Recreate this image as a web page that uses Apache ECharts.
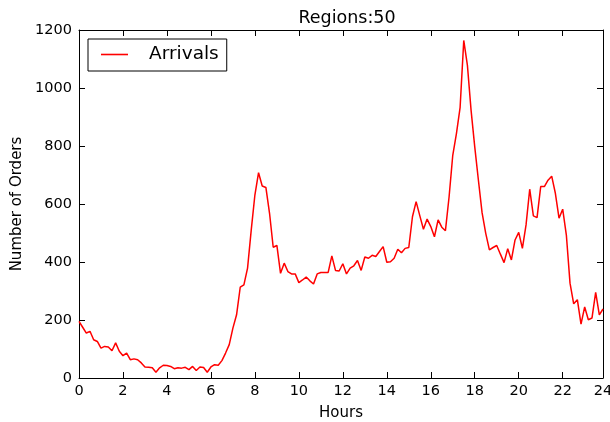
<!DOCTYPE html>
<html>
<head>
<meta charset="utf-8">
<script src="https://cdn.jsdelivr.net/npm/echarts@6/dist/echarts.min.js"></script>
<style>html,body{margin:0;padding:0;background:#fff;}#c{width:610px;height:422px;}</style>
</head>
<body>
<div id="c"></div>
<script>
const title = "Regions:50";
const seriesName = "Arrivals";
const xLabel = "Hours";
const yLabel = "Number of Orders";
const stepHours = 1 / 6; // one sample every 10 minutes
const arrivals = [
  195, 175, 155, 161, 132, 126, 103, 109, 107, 94, 121, 92,
  77, 86, 63, 66, 63, 52, 38, 37, 35, 20, 35, 44,
  43, 40, 32, 35, 34, 37, 29, 40, 26, 38, 36, 20,
  38, 46, 44, 60, 86, 115, 172, 218, 313, 321, 379, 510,
  631, 708, 662, 657, 568, 451, 457, 361, 396, 367, 359, 359,
  329, 338, 348, 335, 324, 359, 364, 364, 364, 421, 371, 369,
  394, 359, 379, 387, 405, 371, 417, 413, 423, 419, 436, 453,
  399, 401, 413, 444, 432, 447, 450, 556, 608, 560, 513, 548,
  522, 487, 545, 520, 508, 625, 768, 843, 932, 1164, 1078, 923,
  797, 682, 570, 499, 442, 450, 457, 427, 398, 446, 407, 476,
  502, 447, 528, 651, 559, 553, 660, 660, 682, 696, 637, 551,
  582, 493, 327, 256, 270, 186, 245, 201, 207, 295, 218, 238
];
const xTicks = [0, 2, 4, 6, 8, 10, 12, 14, 16, 18, 20, 22, 24];
const yTicks = [0, 200, 400, 600, 800, 1000, 1200];

const points = arrivals.map((v, i) => [i * stepHours, v]);
const xMax = (arrivals.length - 1) * stepHours;
const font = "DejaVu Sans";
const axisCommon = {
  type: 'value',
  axisLine: { show: true, onZero: false, lineStyle: { color: '#000', width: 1 } },
  axisTick: { show: true, inside: true, length: 6, lineStyle: { color: '#000', width: 1 } },
  splitLine: { show: false },
  minorTick: { show: false }
};
const chart = echarts.init(document.getElementById('c'), null, { renderer: 'canvas' });
chart.setOption({
  animation: false,
  backgroundColor: '#fff',
  title: {
    text: title, left: 342, top: 4, textAlign: 'center',
    textStyle: { fontFamily: font, fontSize: 17.5, fontWeight: 'normal', color: '#000' }
  },
  legend: {
    data: [seriesName], left: 88, top: 39,
    orient: 'horizontal',
    icon: 'rect', itemWidth: 27, itemHeight: 1.6,
    padding: [6, 8, 7, 13],
    borderColor: '#000', borderWidth: 1, borderRadius: 0,
    backgroundColor: '#fff',
    textStyle: { fontFamily: font, fontSize: 18.5, color: '#000', padding: [0, 0, 0, 16] },
    selectedMode: false
  },
  grid: { left: 79, top: 30, width: 524, height: 348, containLabel: false, outerBoundsMode: 'none' },
  xAxis: [
    Object.assign({}, axisCommon, {
      position: 'bottom', min: 0, max: xMax, interval: 2,
      name: xLabel, nameLocation: 'middle', nameGap: 28,
      nameTextStyle: { fontFamily: font, fontSize: 15, color: '#000' },
      axisLabel: {
        show: true, showMaxLabel: true, margin: 6,
        fontFamily: font, fontSize: 14.5, color: '#000',
        formatter: v => {
          const r = Math.round(v);
          return xTicks.indexOf(r) >= 0 ? String(r) : '';
        }
      }
    }),
    Object.assign({}, axisCommon, {
      position: 'top', min: 0, max: xMax, interval: 2,
      axisLabel: { show: false }
    })
  ],
  yAxis: [
    Object.assign({}, axisCommon, {
      position: 'left', min: yTicks[0], max: yTicks[yTicks.length - 1], interval: 200,
      name: yLabel, nameLocation: 'middle', nameGap: 52, nameRotate: 90,
      nameTextStyle: { fontFamily: font, fontSize: 15, color: '#000' },
      axisLabel: { show: true, margin: 7, fontFamily: font, fontSize: 14.5, color: '#000',
        formatter: v => String(v) }
    }),
    Object.assign({}, axisCommon, {
      position: 'right', min: yTicks[0], max: yTicks[yTicks.length - 1], interval: 200,
      axisLabel: { show: false }
    })
  ],
  series: [{
    name: seriesName, type: 'line', data: points,
    xAxisIndex: 0, yAxisIndex: 0,
    symbol: 'none', showSymbol: false, smooth: false,
    lineStyle: { color: '#ff0000', width: 1.5 },
    itemStyle: { color: '#ff0000' }
  }]
});
</script>
</body>
</html>
